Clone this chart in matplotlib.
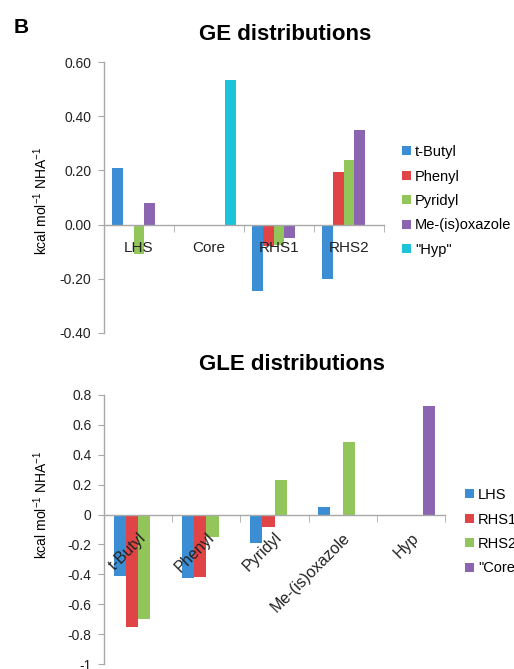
import numpy as np
import matplotlib
matplotlib.use('Agg')
import matplotlib.pyplot as plt

plt.rcParams['font.family'] = ['Liberation Sans', 'DejaVu Sans']
plt.rcParams['mathtext.fontset'] = 'custom'
plt.rcParams['mathtext.rm'] = 'Liberation Sans'
plt.rcParams['axes.unicode_minus'] = False

# GE distributions
ge_groups = ['LHS', 'Core', 'RHS1', 'RHS2']
ge_series = ['t-Butyl', 'Phenyl', 'Pyridyl', 'Me-(is)oxazole', '"Hyp"']
ge_tbutyl = [0.21, 0.0, -0.245, -0.20]
ge_phenyl = [-0.005, 0.0, -0.08, 0.195]
ge_pyridyl = [-0.11, 0.0, -0.075, 0.24]
ge_meox = [0.08, 0.0, -0.05, 0.35]
ge_hyp = [0.0, 0.535, 0.0, 0.0]
ge_ticks = [0.60, 0.40, 0.20, 0.00, -0.20, -0.40]

# GLE distributions
gle_groups = ['t-Butyl', 'Phenyl', 'Pyridyl', 'Me-(is)oxazole', 'Hyp']
gle_series = ['LHS', 'RHS1', 'RHS2', '"Core']
gle_lhs = [-0.41, -0.425, -0.19, 0.05, 0.0]
gle_rhs1 = [-0.755, -0.42, -0.08, -0.005, 0.0]
gle_rhs2 = [-0.70, -0.15, 0.228, 0.483, 0.0]
gle_core = [0.0, 0.0, 0.0, 0.0, 0.728]
gle_ticks = [0.8, 0.6, 0.4, 0.2, 0, -0.2, -0.4, -0.6, -0.8, -1]

colors = ['#3b8ed3', '#e04446', '#92c65a', '#8b64b2', '#1dc3d9']
axis_gray = '#a8a8a8'

W, H = 514, 669
fig = plt.figure(figsize=(W / 100, H / 100), dpi=100)


def px_axes(left, top, right, bottom):
    return fig.add_axes([left / W, 1 - bottom / H, (right - left) / W, (bottom - top) / H])


def style_axes(ax, ngroups, ylim, ticks, fmt):
    ax.set_xlim(0, ngroups)
    ax.set_ylim(*ylim)
    ax.set_axisbelow(False)
    for s in ['top', 'right']:
        ax.spines[s].set_visible(False)
    ax.spines['bottom'].set_position(('data', 0))
    for s in ['left', 'bottom']:
        ax.spines[s].set_color(axis_gray)
        ax.spines[s].set_linewidth(1.0)
    ax.set_yticks(ticks)
    ax.set_yticklabels([fmt % t for t in ticks], fontsize=10, color='#222222')
    ax.tick_params(axis='y', length=4, color=axis_gray, pad=5)
    ax.set_xticks(np.arange(ngroups + 1), minor=True)
    ax.tick_params(axis='x', which='minor', length=5, color=axis_gray, direction='out')
    ax.tick_params(axis='x', which='major', length=0)


legend_kw = dict(loc='upper left', frameon=False, fontsize=10.5, handlelength=0.6,
                 handleheight=0.6, handletextpad=0.3, labelspacing=0.72,
                 borderpad=0, borderaxespad=0)

# ---- top chart ----
ax1 = px_axes(104, 62, 384, 333)
ge_data = [ge_tbutyl, ge_phenyl, ge_pyridyl, ge_meox, ge_hyp]
bw = 0.157
x = np.arange(len(ge_groups)) + 0.5
handles1 = []
for i, (vals, name) in enumerate(zip(ge_data, ge_series)):
    b = ax1.bar(x + (i - 2) * bw, vals, bw, color=colors[i], label=name, zorder=2)
    handles1.append(b)
style_axes(ax1, len(ge_groups), (-0.40, 0.60), ge_ticks, '%.2f')
ax1.set_xticks(x)
ax1.set_xticklabels(ge_groups, fontsize=11, color='#222222')
ax1.tick_params(axis='x', which='major', pad=12)
fig.text(285 / W, 1 - 34 / H, 'GE distributions', fontsize=16, fontweight='bold',
         ha='center', va='center')
fig.text(41 / W, 1 - 201 / H, 'kcal mol$^{-1}$ NHA$^{-1}$', rotation=90, fontsize=10,
         ha='center', va='center')
fig.text(14 / W, 1 - 33 / H, 'B', fontsize=15, fontweight='bold', ha='left', va='baseline')

fig.legend(handles1, ge_series, bbox_to_anchor=(402 / W, 1 - 145 / H), **legend_kw)

# ---- bottom chart ----
ax2 = px_axes(104, 395, 445, 664)
gle_data = [gle_lhs, gle_rhs1, gle_rhs2, gle_core]
bw2 = 0.18
x2 = np.arange(len(gle_groups)) + 0.5
handles2 = []
for i, (vals, name) in enumerate(zip(gle_data, gle_series)):
    b = ax2.bar(x2 + (i - 1.5) * bw2, vals, bw2, color=colors[i], label=name, zorder=2)
    handles2.append(b)
style_axes(ax2, len(gle_groups), (-1, 0.8), gle_ticks, '%g')
ax2.set_xticks(x2)
ax2.set_xticklabels(gle_groups, fontsize=11.5, color='#222222', rotation=45,
                    ha='right', va='top', rotation_mode='anchor')
ax2.tick_params(axis='x', which='major', pad=11)
fig.text(292 / W, 1 - 365 / H, 'GLE distributions', fontsize=16, fontweight='bold',
         ha='center', va='center')
fig.text(41 / W, 1 - 505 / H, 'kcal mol$^{-1}$ NHA$^{-1}$', rotation=90, fontsize=10,
         ha='center', va='center')

fig.legend(handles2, gle_series, bbox_to_anchor=(465 / W, 1 - 488 / H), **legend_kw)

fig.savefig('out.png', dpi=100)
